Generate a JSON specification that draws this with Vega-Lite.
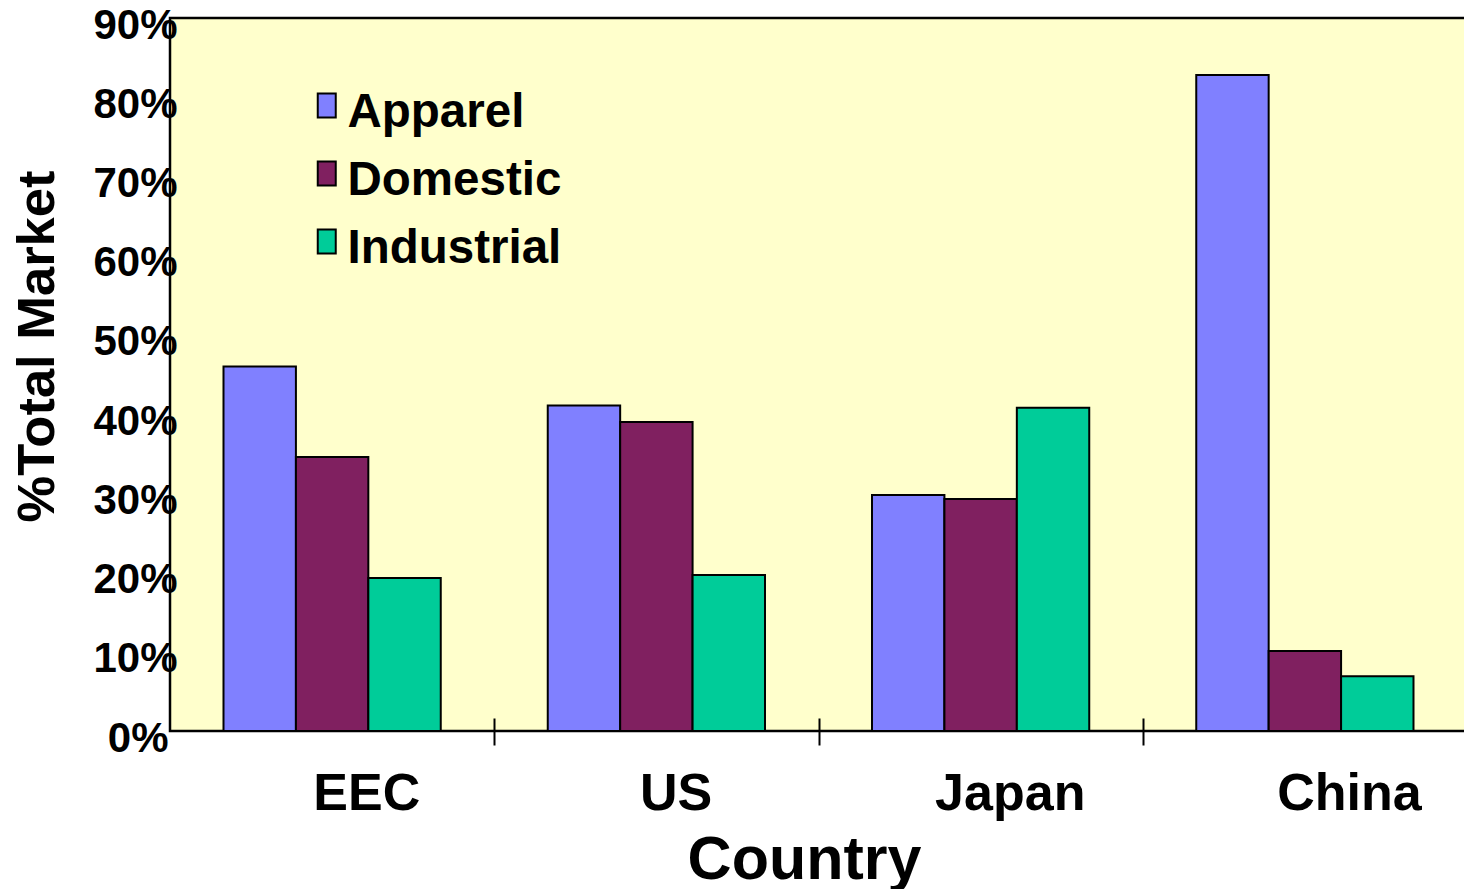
{
  "$schema": "https://vega.github.io/schema/vega-lite/v6.json",
  "autosize": {"type": "none"},
  "padding": {"left": 170, "top": 18, "right": 0, "bottom": 158},
  "width": 1297,
  "height": 713,
  "background": "white",
  "config": {
    "font": "Liberation Sans",
    "view": {"fill": "#FFFFCC", "stroke": "black", "strokeWidth": 2.5},
    "axis": {"grid": false}
  },
  "data": {
    "values": [
      {"country": "EEC", "type": "Apparel", "share": 0.46},
      {"country": "EEC", "type": "Domestic", "share": 0.346},
      {"country": "EEC", "type": "Industrial", "share": 0.193},
      {"country": "US", "type": "Apparel", "share": 0.411},
      {"country": "US", "type": "Domestic", "share": 0.39},
      {"country": "US", "type": "Industrial", "share": 0.197},
      {"country": "Japan", "type": "Apparel", "share": 0.298},
      {"country": "Japan", "type": "Domestic", "share": 0.293},
      {"country": "Japan", "type": "Industrial", "share": 0.408},
      {"country": "China", "type": "Apparel", "share": 0.828},
      {"country": "China", "type": "Domestic", "share": 0.101},
      {"country": "China", "type": "Industrial", "share": 0.069}
    ]
  },
  "mark": {"type": "bar", "stroke": "black", "strokeWidth": 2},
  "encoding": {
    "x": {
      "field": "country",
      "type": "nominal",
      "sort": ["EEC", "US", "Japan", "China"],
      "scale": {"paddingInner": 0.33, "paddingOuter": 0.165},
      "axis": {
        "title": "Country",
        "labelAngle": 0,
        "domain": false,
        "offset": -13,
        "zindex": 1,
        "tickSize": 27,
        "tickWidth": 2,
        "tickColor": "black",
        "tickOffset": 162.125,
        "labelFontSize": 52,
        "labelFontWeight": "bold",
        "labelColor": "black",
        "labelBaseline": "alphabetic",
        "labelPadding": 64,
        "labelOffset": {
          "condition": [
            {"test": "datum.value === 'EEC'", "value": -128},
            {"test": "datum.value === 'US'", "value": -143},
            {"test": "datum.value === 'Japan'", "value": -133}
          ],
          "value": -118
        },
        "titleFontSize": 61,
        "titleFontWeight": "bold",
        "titleColor": "black",
        "titleX": 634,
        "titleY": 160,
        "titleBaseline": "alphabetic",
        "titleAlign": "center"
      }
    },
    "xOffset": {
      "field": "type",
      "type": "nominal",
      "sort": ["Apparel", "Domestic", "Industrial"],
      "scale": {"paddingInner": 0, "paddingOuter": 0}
    },
    "y": {
      "field": "share",
      "type": "quantitative",
      "scale": {"domain": [0, 0.9], "nice": false},
      "axis": {
        "format": ".0%",
        "values": [0, 0.1, 0.2, 0.3, 0.4, 0.5, 0.6, 0.7, 0.8, 0.9],
        "domain": false,
        "ticks": false,
        "tickSize": 0,
        "zindex": 1,
        "labelPadding": {
          "condition": {"test": "datum.value === 0", "value": 2},
          "value": -7
        },
        "labelFontSize": 42,
        "labelFontWeight": "bold",
        "labelColor": "black",
        "labelBaseline": "middle",
        "labelOffset": 7,
        "title": "%Total Market",
        "titleFontSize": 52.5,
        "titleFontWeight": "bold",
        "titleColor": "black",
        "titleX": -117,
        "titleY": 328,
        "titleAngle": -90,
        "titleBaseline": "alphabetic",
        "titleAlign": "center"
      }
    },
    "color": {
      "field": "type",
      "type": "nominal",
      "scale": {
        "domain": ["Apparel", "Domestic", "Industrial"],
        "range": ["#8080FF", "#802060", "#00CC99"]
      },
      "legend": {
        "orient": "none",
        "legendX": 133,
        "legendY": 71,
        "title": null,
        "padding": 0,
        "labelFontSize": 47.5,
        "labelFontWeight": "bold",
        "labelColor": "black",
        "labelLimit": 400,
        "labelOffset": -3,
        "rowPadding": 19,
        "symbolType": "M-0.75,-1.6L0.75,-1.6L0.75,0.4L-0.75,0.4Z",
        "symbolSize": 576,
        "symbolStrokeColor": "black",
        "symbolStrokeWidth": 2,
        "symbolOpacity": 1
      }
    }
  }
}
